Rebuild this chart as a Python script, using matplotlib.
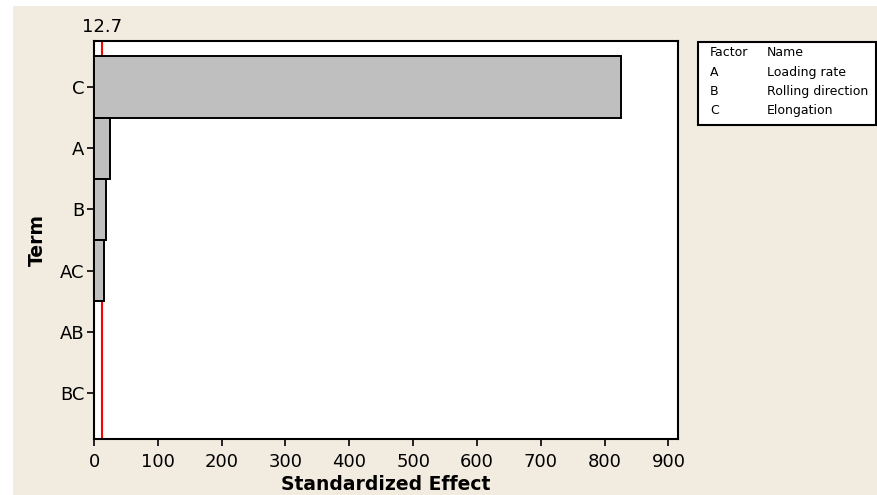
import matplotlib.pyplot as plt
from matplotlib.patches import Rectangle

terms = ["C", "A", "B", "AC", "AB", "BC"]
effects = [825.0, 25.6, 18.8, 16.1, 0.4, 0.3]
ref_value = 12.7
factors = ["A", "B", "C"]
factor_names = ["Loading rate", "Rolling direction", "Elongation"]

bg = "#f1ebe0"
W, H = 877, 495

fig = plt.figure(figsize=(W / 100, H / 100), dpi=100, facecolor="white")
# beige panel (leaves a thin white strip at left and top)
fig.patches.append(Rectangle((13 / W, 0), 1 - 13 / W, 1 - 6 / H,
                             transform=fig.transFigure, facecolor=bg,
                             edgecolor="none", zorder=-10))

ax = fig.add_axes([94 / W, 1 - 439 / H, (678 - 94) / W, (439 - 41) / H])
ax.set_facecolor("white")

ypos = list(range(len(terms)))
ax.barh(ypos, effects, height=1.0, color="#bfbfbf", edgecolor="black",
        linewidth=1.4, zorder=3)
# reference line sits behind the bars
ax.axvline(ref_value, color="red", linewidth=1.5, zorder=2)

ax.set_xlim(0, 915)
ax.set_ylim(len(terms) - 0.25, -0.75)
ax.set_yticks(ypos)
ax.set_yticklabels(terms)
ax.set_xticks(range(0, 1000, 100))
ax.tick_params(axis="both", direction="out", length=5, width=1.2,
               labelsize=13)
ax.tick_params(axis="x", pad=5)
ax.tick_params(axis="y", pad=2)
for s in ax.spines.values():
    s.set_linewidth(1.5)

ax.set_xlabel("Standardized Effect", fontsize=13.5, fontweight="bold",
              labelpad=3)
ax.set_ylabel("Term", fontsize=13.5, fontweight="bold", labelpad=9)

# reference value label above the axes
ax.text(ref_value, 1.012, f"{ref_value}", transform=ax.get_xaxis_transform(),
        ha="center", va="bottom", fontsize=13)

# factor key box
fig.patches.append(Rectangle((698 / W, 1 - 125 / H), (876 - 698) / W, (125 - 42) / H,
                             transform=fig.transFigure, facecolor="white",
                             edgecolor="black", linewidth=1.5, zorder=-5))
rows = [("Factor", "Name")] + list(zip(factors, factor_names))
for i, (f, n) in enumerate(rows):
    y = 1 - (53 + i * 19.3) / H
    fig.text(710 / W, y, f, fontsize=9, va="center", ha="left")
    fig.text(767 / W, y, n, fontsize=9, va="center", ha="left")

fig.savefig("out.png", dpi=100, facecolor=fig.get_facecolor())
